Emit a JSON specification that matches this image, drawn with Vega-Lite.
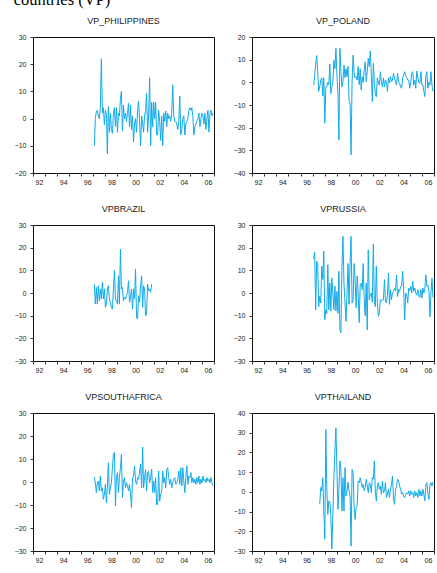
{
"$schema": "https://vega.github.io/schema/vega-lite/v6.json",
"padding": {"left": 13, "top": -9, "right": 2, "bottom": 2},
"title": {"text": "countries (VP)", "font": "Liberation Serif", "fontSize": 16.5, "fontWeight": "normal", "anchor": "start", "color": "#000", "offset": 8.5},
"config": {
 "view": {"stroke": "#111", "strokeWidth": 1},
 "font": "Liberation Sans",
 "title": {"fontSize": 9, "font": "Liberation Sans", "fontWeight": "normal", "color": "#222", "offset": 7},
 "axis": {"grid": false, "domain": false, "tickSize": 3, "tickColor": "#333", "labelColor": "#222", "labelFont": "Liberation Sans", "labelFontSize": 7},
 "axisX": {"labelPadding": 2, "labelOffset": 6, "labelFlush": false, "labelOverlap": false},
 "axisY": {"labelPadding": 4},
 "line": {"color": "#10AAEA", "strokeWidth": 1, "clip": true}
},
"datasets": {
"ph": [{"d":"1997-02","v":-10},{"d":"1997-03","v":0},{"d":"1997-04","v":2.5},{"d":"1997-05","v":3},{"d":"1997-06","v":1},{"d":"1997-07","v":0},{"d":"1997-08","v":4},{"d":"1997-09","v":22},{"d":"1997-10","v":2},{"d":"1997-11","v":4},{"d":"1997-12","v":-2.3},
{"d":"1998-01","v":3},{"d":"1998-02","v":1.5},{"d":"1998-03","v":-13},{"d":"1998-04","v":4.4},{"d":"1998-05","v":-5},{"d":"1998-06","v":2},{"d":"1998-07","v":-4},{"d":"1998-08","v":-5.4},{"d":"1998-09","v":2},{"d":"1998-10","v":4},{"d":"1998-11","v":-3},{"d":"1998-12","v":4},
{"d":"1999-01","v":-5},{"d":"1999-02","v":2},{"d":"1999-03","v":1},{"d":"1999-04","v":7.5},{"d":"1999-05","v":10},{"d":"1999-06","v":-4.6},{"d":"1999-07","v":5},{"d":"1999-08","v":0},{"d":"1999-09","v":2},{"d":"1999-10","v":-1},{"d":"1999-11","v":2},{"d":"1999-12","v":5.6},
{"d":"2000-01","v":-3},{"d":"2000-02","v":5},{"d":"2000-03","v":-4},{"d":"2000-04","v":1},{"d":"2000-05","v":-8.5},{"d":"2000-06","v":-2},{"d":"2000-07","v":0},{"d":"2000-08","v":-5},{"d":"2000-09","v":3},{"d":"2000-10","v":6.4},{"d":"2000-11","v":-1},{"d":"2000-12","v":-10},
{"d":"2001-01","v":1},{"d":"2001-02","v":-2},{"d":"2001-03","v":-5},{"d":"2001-04","v":1},{"d":"2001-05","v":3},{"d":"2001-06","v":9.3},{"d":"2001-07","v":-5},{"d":"2001-08","v":1},{"d":"2001-09","v":15},{"d":"2001-10","v":-10},{"d":"2001-11","v":6},{"d":"2001-12","v":-3},
{"d":"2002-01","v":6},{"d":"2002-02","v":0},{"d":"2002-03","v":6},{"d":"2002-04","v":-6},{"d":"2002-05","v":-6},{"d":"2002-06","v":3},{"d":"2002-07","v":-1},{"d":"2002-08","v":-8},{"d":"2002-09","v":1},{"d":"2002-10","v":-10},{"d":"2002-11","v":2},{"d":"2002-12","v":-1},
{"d":"2003-01","v":2.8},{"d":"2003-02","v":-3},{"d":"2003-03","v":2},{"d":"2003-04","v":0},{"d":"2003-05","v":1},{"d":"2003-06","v":-1},{"d":"2003-07","v":2},{"d":"2003-08","v":12.4},{"d":"2003-09","v":1},{"d":"2003-10","v":-1},{"d":"2003-11","v":-1},{"d":"2003-12","v":-2},
{"d":"2004-01","v":-4},{"d":"2004-02","v":-1},{"d":"2004-03","v":8.3},{"d":"2004-04","v":-6},{"d":"2004-05","v":-4},{"d":"2004-06","v":0},{"d":"2004-07","v":1},{"d":"2004-08","v":-6},{"d":"2004-09","v":-2},{"d":"2004-10","v":-1},{"d":"2004-11","v":0},{"d":"2004-12","v":3},
{"d":"2005-01","v":4},{"d":"2005-02","v":3},{"d":"2005-03","v":4},{"d":"2005-04","v":1},{"d":"2005-05","v":-6},{"d":"2005-06","v":-3},{"d":"2005-07","v":-2},{"d":"2005-08","v":-1},{"d":"2005-09","v":0},{"d":"2005-10","v":2},{"d":"2005-11","v":-3},{"d":"2005-12","v":0},
{"d":"2006-01","v":2},{"d":"2006-02","v":1},{"d":"2006-03","v":-2},{"d":"2006-04","v":2},{"d":"2006-05","v":-4},{"d":"2006-06","v":0},{"d":"2006-07","v":3},{"d":"2006-08","v":-5},{"d":"2006-09","v":2},{"d":"2006-10","v":3},{"d":"2006-11","v":1},{"d":"2006-12","v":2}],
"pl": [{"d":"1997-02","v":-1.2},{"d":"1997-03","v":3},{"d":"1997-04","v":8},{"d":"1997-05","v":11.8},{"d":"1997-06","v":4.7},{"d":"1997-07","v":-4},{"d":"1997-08","v":-2},{"d":"1997-09","v":1},{"d":"1997-10","v":2},{"d":"1997-11","v":-6},{"d":"1997-12","v":2},
{"d":"1998-01","v":-18},{"d":"1998-02","v":-2},{"d":"1998-03","v":-2},{"d":"1998-04","v":0},{"d":"1998-05","v":-1},{"d":"1998-06","v":8},{"d":"1998-07","v":-5},{"d":"1998-08","v":-2},{"d":"1998-09","v":0},{"d":"1998-10","v":9.7},{"d":"1998-11","v":6},{"d":"1998-12","v":15},
{"d":"1999-01","v":3},{"d":"1999-02","v":-5},{"d":"1999-03","v":-25.4},{"d":"1999-04","v":15},{"d":"1999-05","v":5},{"d":"1999-06","v":-2},{"d":"1999-07","v":0.3},{"d":"1999-08","v":7.6},{"d":"1999-09","v":2},{"d":"1999-10","v":6},{"d":"1999-11","v":2.5},{"d":"1999-12","v":7},
{"d":"2000-01","v":-8},{"d":"2000-02","v":-9},{"d":"2000-03","v":-32},{"d":"2000-04","v":0.3},{"d":"2000-05","v":12},{"d":"2000-06","v":4},{"d":"2000-07","v":2},{"d":"2000-08","v":2.5},{"d":"2000-09","v":1},{"d":"2000-10","v":7},{"d":"2000-11","v":-1},{"d":"2000-12","v":6},
{"d":"2001-01","v":-3.4},{"d":"2001-02","v":2.5},{"d":"2001-03","v":0},{"d":"2001-04","v":5.4},{"d":"2001-05","v":9},{"d":"2001-06","v":0.3},{"d":"2001-07","v":4.7},{"d":"2001-08","v":10.6},{"d":"2001-09","v":7},{"d":"2001-10","v":13.8},{"d":"2001-11","v":3.2},{"d":"2001-12","v":-8.5},
{"d":"2002-01","v":8.4},{"d":"2002-02","v":0},{"d":"2002-03","v":-5},{"d":"2002-04","v":-6.3},{"d":"2002-05","v":2},{"d":"2002-06","v":0},{"d":"2002-07","v":-1.2},{"d":"2002-08","v":4.7},{"d":"2002-09","v":0.3},{"d":"2002-10","v":-2},{"d":"2002-11","v":2},{"d":"2002-12","v":-2},
{"d":"2003-01","v":1},{"d":"2003-02","v":0.3},{"d":"2003-03","v":-4},{"d":"2003-04","v":2},{"d":"2003-05","v":-0.2},{"d":"2003-06","v":2.5},{"d":"2003-07","v":0.3},{"d":"2003-08","v":1},{"d":"2003-09","v":4},{"d":"2003-10","v":2},{"d":"2003-11","v":0},{"d":"2003-12","v":-1.2},
{"d":"2004-01","v":4},{"d":"2004-02","v":0.3},{"d":"2004-03","v":-0.5},{"d":"2004-04","v":-2},{"d":"2004-05","v":-2.6},{"d":"2004-06","v":2},{"d":"2004-07","v":3.2},{"d":"2004-08","v":4.7},{"d":"2004-09","v":3},{"d":"2004-10","v":2},{"d":"2004-11","v":1},{"d":"2004-12","v":1},
{"d":"2005-01","v":-2.6},{"d":"2005-02","v":0.3},{"d":"2005-03","v":4},{"d":"2005-04","v":4.7},{"d":"2005-05","v":-1.2},{"d":"2005-06","v":1},{"d":"2005-07","v":-2.6},{"d":"2005-08","v":5},{"d":"2005-09","v":2},{"d":"2005-10","v":0},{"d":"2005-11","v":-0.5},{"d":"2005-12","v":4.7},
{"d":"2006-01","v":-1.2},{"d":"2006-02","v":-1.2},{"d":"2006-03","v":-4},{"d":"2006-04","v":-6.3},{"d":"2006-05","v":3.2},{"d":"2006-06","v":4.7},{"d":"2006-07","v":-2.6},{"d":"2006-08","v":0},{"d":"2006-09","v":-1.2},{"d":"2006-10","v":4.7},{"d":"2006-11","v":-1.2},{"d":"2006-12","v":-4}],
"br": [{"d":"1997-02","v":3.9},{"d":"1997-03","v":-4.9},{"d":"1997-04","v":2.5},{"d":"1997-05","v":-4.9},{"d":"1997-06","v":3.2},{"d":"1997-07","v":-3.4},{"d":"1997-08","v":1.8},{"d":"1997-09","v":-2.6},{"d":"1997-10","v":4.7},{"d":"1997-11","v":-2.6},{"d":"1997-12","v":1.8},
{"d":"1998-01","v":-6.3},{"d":"1998-02","v":-4.9},{"d":"1998-03","v":1.8},{"d":"1998-04","v":3.2},{"d":"1998-05","v":-2.6},{"d":"1998-06","v":-4.1},{"d":"1998-07","v":-6.3},{"d":"1998-08","v":-7.1},{"d":"1998-09","v":1.8},{"d":"1998-10","v":9.9},{"d":"1998-11","v":-2.6},{"d":"1998-12","v":-3.4},
{"d":"1999-01","v":-4.9},{"d":"1999-02","v":7.6},{"d":"1999-03","v":-4.9},{"d":"1999-04","v":19.4},{"d":"1999-05","v":1.8},{"d":"1999-06","v":2.5},{"d":"1999-07","v":-3.4},{"d":"1999-08","v":-1.9},{"d":"1999-09","v":-2.6},{"d":"1999-10","v":-1.2},{"d":"1999-11","v":0.3},{"d":"1999-12","v":5.4},
{"d":"2000-01","v":-4.1},{"d":"2000-02","v":-1.9},{"d":"2000-03","v":1.8},{"d":"2000-04","v":-7.1},{"d":"2000-05","v":1.8},{"d":"2000-06","v":-2.6},{"d":"2000-07","v":10.6},{"d":"2000-08","v":-10.7},{"d":"2000-09","v":-11.5},{"d":"2000-10","v":-1.2},{"d":"2000-11","v":-4.1},{"d":"2000-12","v":3.2},
{"d":"2001-01","v":7.6},{"d":"2001-02","v":-6.3},{"d":"2001-03","v":3.2},{"d":"2001-04","v":1.8},{"d":"2001-05","v":-10},{"d":"2001-06","v":-9.3},{"d":"2001-07","v":3.9},{"d":"2001-08","v":1},{"d":"2001-09","v":1.8},{"d":"2001-10","v":0.3},{"d":"2001-11","v":3.9}],
"ru": [{"d":"1997-02","v":15},{"d":"1997-03","v":18},{"d":"1997-04","v":-7.5},{"d":"1997-05","v":14},{"d":"1997-06","v":13},{"d":"1997-07","v":-6},{"d":"1997-08","v":-1.5},{"d":"1997-09","v":-4.4},{"d":"1997-10","v":11.8},{"d":"1997-11","v":6},{"d":"1997-12","v":18.4},
{"d":"1998-01","v":-11.8},{"d":"1998-02","v":-7.4},{"d":"1998-03","v":-9},{"d":"1998-04","v":12.5},{"d":"1998-05","v":-7.4},{"d":"1998-06","v":4.4},{"d":"1998-07","v":-8},{"d":"1998-08","v":6.6},{"d":"1998-09","v":0},{"d":"1998-10","v":-7.4},{"d":"1998-11","v":3},{"d":"1998-12","v":-8},
{"d":"1999-01","v":0.7},{"d":"1999-02","v":-9},{"d":"1999-03","v":9.6},{"d":"1999-04","v":-16.2},{"d":"1999-05","v":-17.6},{"d":"1999-06","v":11.8},{"d":"1999-07","v":25},{"d":"1999-08","v":4.4},{"d":"1999-09","v":-4.4},{"d":"1999-10","v":-12.5},{"d":"1999-11","v":0},{"d":"1999-12","v":13},
{"d":"2000-01","v":-5},{"d":"2000-02","v":13},{"d":"2000-03","v":25},{"d":"2000-04","v":-4.4},{"d":"2000-05","v":-3},{"d":"2000-06","v":13},{"d":"2000-07","v":6},{"d":"2000-08","v":-6.5},{"d":"2000-09","v":7.4},{"d":"2000-10","v":0},{"d":"2000-11","v":-13},{"d":"2000-12","v":3.7},
{"d":"2001-01","v":4.4},{"d":"2001-02","v":1.5},{"d":"2001-03","v":13},{"d":"2001-04","v":-3},{"d":"2001-05","v":-10},{"d":"2001-06","v":4.4},{"d":"2001-07","v":-16.2},{"d":"2001-08","v":19},{"d":"2001-09","v":-3},{"d":"2001-10","v":-0.7},{"d":"2001-11","v":0},{"d":"2001-12","v":-4},
{"d":"2002-01","v":21.6},{"d":"2002-02","v":-4.4},{"d":"2002-03","v":-6},{"d":"2002-04","v":11.8},{"d":"2002-05","v":-4.4},{"d":"2002-06","v":-10.3},{"d":"2002-07","v":-8.8},{"d":"2002-08","v":-2.9},{"d":"2002-09","v":-3.6},{"d":"2002-10","v":-3},{"d":"2002-11","v":-2.9},{"d":"2002-12","v":5.9},
{"d":"2003-01","v":-3.6},{"d":"2003-02","v":-4.4},{"d":"2003-03","v":-1},{"d":"2003-04","v":8.8},{"d":"2003-05","v":-5},{"d":"2003-06","v":1.5},{"d":"2003-07","v":-2.9},{"d":"2003-08","v":0},{"d":"2003-09","v":0.7},{"d":"2003-10","v":2},{"d":"2003-11","v":1},{"d":"2003-12","v":7.9},
{"d":"2004-01","v":-1.5},{"d":"2004-02","v":1.5},{"d":"2004-03","v":0.7},{"d":"2004-04","v":2.9},{"d":"2004-05","v":3},{"d":"2004-06","v":9.6},{"d":"2004-07","v":2},{"d":"2004-08","v":-11.8},{"d":"2004-09","v":0},{"d":"2004-10","v":-0.7},{"d":"2004-11","v":-4.4},{"d":"2004-12","v":2.2},
{"d":"2005-01","v":1},{"d":"2005-02","v":2.9},{"d":"2005-03","v":0},{"d":"2005-04","v":5.2},{"d":"2005-05","v":0.7},{"d":"2005-06","v":2.2},{"d":"2005-07","v":0},{"d":"2005-08","v":-1},{"d":"2005-09","v":1.5},{"d":"2005-10","v":-1.5},{"d":"2005-11","v":-2},{"d":"2005-12","v":1.5},
{"d":"2006-01","v":-2.2},{"d":"2006-02","v":2.2},{"d":"2006-03","v":0},{"d":"2006-04","v":2},{"d":"2006-05","v":8},{"d":"2006-06","v":3},{"d":"2006-07","v":3.5},{"d":"2006-08","v":1},{"d":"2006-09","v":-10.5},{"d":"2006-10","v":0},{"d":"2006-11","v":6.5},{"d":"2006-12","v":-2}],
"za": [{"d":"1997-02","v":2.2},{"d":"1997-03","v":-0.3},{"d":"1997-04","v":-4.6},{"d":"1997-05","v":-0.3},{"d":"1997-06","v":0.4},{"d":"1997-07","v":-3.9},{"d":"1997-08","v":2.6},{"d":"1997-09","v":-3.9},{"d":"1997-10","v":-2.5},{"d":"1997-11","v":-7.5},{"d":"1997-12","v":-5.4},
{"d":"1998-01","v":-1},{"d":"1998-02","v":-9},{"d":"1998-03","v":-1.7},{"d":"1998-04","v":8.4},{"d":"1998-05","v":-5.4},{"d":"1998-06","v":-2.5},{"d":"1998-07","v":-0.3},{"d":"1998-08","v":6.2},{"d":"1998-09","v":12},{"d":"1998-10","v":12.8},{"d":"1998-11","v":-10.4},{"d":"1998-12","v":1.9},
{"d":"1999-01","v":4.1},{"d":"1999-02","v":-4.6},{"d":"1999-03","v":1.9},{"d":"1999-04","v":6.2},{"d":"1999-05","v":12},{"d":"1999-06","v":-6.8},{"d":"1999-07","v":0.4},{"d":"1999-08","v":1.9},{"d":"1999-09","v":-2.5},{"d":"1999-10","v":-0.3},{"d":"1999-11","v":-1.7},{"d":"1999-12","v":-3.9},
{"d":"2000-01","v":-1},{"d":"2000-02","v":-5.4},{"d":"2000-03","v":-11.2},{"d":"2000-04","v":1.9},{"d":"2000-05","v":2.6},{"d":"2000-06","v":7},{"d":"2000-07","v":0.4},{"d":"2000-08","v":-1},{"d":"2000-09","v":1.9},{"d":"2000-10","v":1.2},{"d":"2000-11","v":4.8},{"d":"2000-12","v":7.7},
{"d":"2001-01","v":-2.5},{"d":"2001-02","v":15.2},{"d":"2001-03","v":-2.5},{"d":"2001-04","v":1.9},{"d":"2001-05","v":5.5},{"d":"2001-06","v":-3.9},{"d":"2001-07","v":4.1},{"d":"2001-08","v":4.8},{"d":"2001-09","v":-0.3},{"d":"2001-10","v":1.9},{"d":"2001-11","v":5.5},{"d":"2001-12","v":-4.6},
{"d":"2002-01","v":0.4},{"d":"2002-02","v":-4.6},{"d":"2002-03","v":1.9},{"d":"2002-04","v":-10},{"d":"2002-05","v":-9.5},{"d":"2002-06","v":4.8},{"d":"2002-07","v":-8.3},{"d":"2002-08","v":-5.4},{"d":"2002-09","v":-3.9},{"d":"2002-10","v":4.8},{"d":"2002-11","v":-0.3},{"d":"2002-12","v":1.9},
{"d":"2003-01","v":-2.5},{"d":"2003-02","v":5.5},{"d":"2003-03","v":6.2},{"d":"2003-04","v":1.9},{"d":"2003-05","v":-1},{"d":"2003-06","v":1.2},{"d":"2003-07","v":-2.5},{"d":"2003-08","v":-0.3},{"d":"2003-09","v":1.2},{"d":"2003-10","v":1.9},{"d":"2003-11","v":-1},{"d":"2003-12","v":-0.3},
{"d":"2004-01","v":1.2},{"d":"2004-02","v":4.8},{"d":"2004-03","v":-1},{"d":"2004-04","v":6.2},{"d":"2004-05","v":-1.7},{"d":"2004-06","v":6.2},{"d":"2004-07","v":0.4},{"d":"2004-08","v":-4.6},{"d":"2004-09","v":1.9},{"d":"2004-10","v":7},{"d":"2004-11","v":-1},{"d":"2004-12","v":2.6},
{"d":"2005-01","v":1.9},{"d":"2005-02","v":4.1},{"d":"2005-03","v":-0.3},{"d":"2005-04","v":1.9},{"d":"2005-05","v":-0.3},{"d":"2005-06","v":1.2},{"d":"2005-07","v":-1},{"d":"2005-08","v":1.9},{"d":"2005-09","v":-0.3},{"d":"2005-10","v":2.6},{"d":"2005-11","v":-1},{"d":"2005-12","v":1.2},
{"d":"2006-01","v":-0.3},{"d":"2006-02","v":2.6},{"d":"2006-03","v":0.4},{"d":"2006-04","v":1.2},{"d":"2006-05","v":-0.3},{"d":"2006-06","v":1.9},{"d":"2006-07","v":0.4},{"d":"2006-08","v":1.2},{"d":"2006-09","v":-0.3},{"d":"2006-10","v":1.9},{"d":"2006-11","v":-0.3},{"d":"2006-12","v":-1.7}],
"th": [{"d":"1997-08","v":-6.3},{"d":"1997-09","v":2.2},{"d":"1997-10","v":0.5},{"d":"1997-11","v":7.2},{"d":"1997-12","v":-9.7},
{"d":"1998-01","v":-24},{"d":"1998-02","v":31.7},{"d":"1998-03","v":2.2},{"d":"1998-04","v":-11.4},{"d":"1998-05","v":-4.7},{"d":"1998-06","v":-5},{"d":"1998-07","v":-12},{"d":"1998-08","v":-29},{"d":"1998-09","v":-11.4},{"d":"1998-10","v":7.2},{"d":"1998-11","v":20.7},{"d":"1998-12","v":32.5},
{"d":"1999-01","v":10.6},{"d":"1999-02","v":-8.9},{"d":"1999-03","v":0.5},{"d":"1999-04","v":15.7},{"d":"1999-05","v":11.4},{"d":"1999-06","v":-9.7},{"d":"1999-07","v":7.2},{"d":"1999-08","v":-9.7},{"d":"1999-09","v":12.3},{"d":"1999-10","v":-2.1},{"d":"1999-11","v":0.5},{"d":"1999-12","v":5},
{"d":"2000-01","v":0.5},{"d":"2000-02","v":-2.1},{"d":"2000-03","v":-27.5},{"d":"2000-04","v":11.4},{"d":"2000-05","v":9.7},{"d":"2000-06","v":-7.2},{"d":"2000-07","v":-14},{"d":"2000-08","v":-8},{"d":"2000-09","v":-7.2},{"d":"2000-10","v":5.5},{"d":"2000-11","v":4.7},{"d":"2000-12","v":7.2},
{"d":"2001-01","v":4.7},{"d":"2001-02","v":2.2},{"d":"2001-03","v":3.8},{"d":"2001-04","v":0.5},{"d":"2001-05","v":2.2},{"d":"2001-06","v":6.4},{"d":"2001-07","v":3},{"d":"2001-08","v":-0.4},{"d":"2001-09","v":4.7},{"d":"2001-10","v":3.8},{"d":"2001-11","v":-0.4},{"d":"2001-12","v":7.2},
{"d":"2002-01","v":6.4},{"d":"2002-02","v":15.7},{"d":"2002-03","v":0.5},{"d":"2002-04","v":-4.7},{"d":"2002-05","v":3},{"d":"2002-06","v":4.7},{"d":"2002-07","v":1.3},{"d":"2002-08","v":3},{"d":"2002-09","v":-1.2},{"d":"2002-10","v":5.5},{"d":"2002-11","v":-0.4},{"d":"2002-12","v":0.5},
{"d":"2003-01","v":4.7},{"d":"2003-02","v":-2.9},{"d":"2003-03","v":-1.2},{"d":"2003-04","v":1.3},{"d":"2003-05","v":-2.9},{"d":"2003-06","v":1.3},{"d":"2003-07","v":3.8},{"d":"2003-08","v":8},{"d":"2003-09","v":-3.8},{"d":"2003-10","v":-6.3},{"d":"2003-11","v":1.3},{"d":"2003-12","v":3},
{"d":"2004-01","v":6.4},{"d":"2004-02","v":5.5},{"d":"2004-03","v":3},{"d":"2004-04","v":1.3},{"d":"2004-05","v":-1.2},{"d":"2004-06","v":-0.4},{"d":"2004-07","v":-2.1},{"d":"2004-08","v":-2.9},{"d":"2004-09","v":-1.2},{"d":"2004-10","v":-0.4},{"d":"2004-11","v":-1.2},{"d":"2004-12","v":0.5},
{"d":"2005-01","v":-2.1},{"d":"2005-02","v":0.5},{"d":"2005-03","v":-1.2},{"d":"2005-04","v":-0.4},{"d":"2005-05","v":-2.9},{"d":"2005-06","v":0.5},{"d":"2005-07","v":-2.1},{"d":"2005-08","v":-0.4},{"d":"2005-09","v":-2.9},{"d":"2005-10","v":1.3},{"d":"2005-11","v":-2.1},{"d":"2005-12","v":0.5},
{"d":"2006-01","v":-2.1},{"d":"2006-02","v":1.3},{"d":"2006-03","v":-1.2},{"d":"2006-04","v":-4.5},{"d":"2006-05","v":3.8},{"d":"2006-06","v":4.7},{"d":"2006-07","v":-1.2},{"d":"2006-08","v":-3.8},{"d":"2006-09","v":3.8},{"d":"2006-10","v":4.7},{"d":"2006-11","v":3},{"d":"2006-12","v":5}]
},
"spacing": 18,
"vconcat": [
{"hconcat": [
 {"title": "VP_PHILIPPINES", "width": 181, "height": 136, "data": {"name": "ph"}, "mark": "line",
  "encoding": {
   "x": {"field": "d", "type": "temporal", "title": null, "scale": {"type": "utc", "domain": [{"year": 1992, "utc": true}, {"year": 2007, "utc": true}]}, "axis": {"values": [{"year":1992,"utc":true},{"year":1993,"utc":true},{"year":1994,"utc":true},{"year":1995,"utc":true},{"year":1996,"utc":true},{"year":1997,"utc":true},{"year":1998,"utc":true},{"year":1999,"utc":true},{"year":2000,"utc":true},{"year":2001,"utc":true},{"year":2002,"utc":true},{"year":2003,"utc":true},{"year":2004,"utc":true},{"year":2005,"utc":true},{"year":2006,"utc":true},{"year":2007,"utc":true}], "labelExpr": "utcyear(datum.value) % 2 == 0 && utcyear(datum.value) < 2007 ? utcFormat(datum.value, '%y') : ''"}},
   "y": {"field": "v", "type": "quantitative", "title": null, "scale": {"domain": [-20, 30], "nice": false, "zero": false}, "axis": {"values": [-20, -10, 0, 10, 20, 30]}}
  }},
 {"title": "VP_POLAND", "width": 182, "height": 136, "data": {"name": "pl"}, "mark": "line",
  "encoding": {
   "x": {"field": "d", "type": "temporal", "title": null, "scale": {"type": "utc", "domain": [{"year": 1992, "utc": true}, {"year": 2007, "utc": true}]}, "axis": {"values": [{"year":1992,"utc":true},{"year":1993,"utc":true},{"year":1994,"utc":true},{"year":1995,"utc":true},{"year":1996,"utc":true},{"year":1997,"utc":true},{"year":1998,"utc":true},{"year":1999,"utc":true},{"year":2000,"utc":true},{"year":2001,"utc":true},{"year":2002,"utc":true},{"year":2003,"utc":true},{"year":2004,"utc":true},{"year":2005,"utc":true},{"year":2006,"utc":true},{"year":2007,"utc":true}], "labelExpr": "utcyear(datum.value) % 2 == 0 && utcyear(datum.value) < 2007 ? utcFormat(datum.value, '%y') : ''"}},
   "y": {"field": "v", "type": "quantitative", "title": null, "scale": {"domain": [-40, 20], "nice": false, "zero": false}, "axis": {"values": [-40, -30, -20, -10, 0, 10, 20]}}
  }}
], "spacing": 11},
{"hconcat": [
 {"title": "VPBRAZIL", "width": 181, "height": 136, "data": {"name": "br"}, "mark": "line",
  "encoding": {
   "x": {"field": "d", "type": "temporal", "title": null, "scale": {"type": "utc", "domain": [{"year": 1992, "utc": true}, {"year": 2007, "utc": true}]}, "axis": {"values": [{"year":1992,"utc":true},{"year":1993,"utc":true},{"year":1994,"utc":true},{"year":1995,"utc":true},{"year":1996,"utc":true},{"year":1997,"utc":true},{"year":1998,"utc":true},{"year":1999,"utc":true},{"year":2000,"utc":true},{"year":2001,"utc":true},{"year":2002,"utc":true},{"year":2003,"utc":true},{"year":2004,"utc":true},{"year":2005,"utc":true},{"year":2006,"utc":true},{"year":2007,"utc":true}], "labelExpr": "utcyear(datum.value) % 2 == 0 && utcyear(datum.value) < 2007 ? utcFormat(datum.value, '%y') : ''"}},
   "y": {"field": "v", "type": "quantitative", "title": null, "scale": {"domain": [-30, 30], "nice": false, "zero": false}, "axis": {"values": [-30, -20, -10, 0, 10, 20, 30]}}
  }},
 {"title": "VPRUSSIA", "width": 182, "height": 136, "data": {"name": "ru"}, "mark": "line",
  "encoding": {
   "x": {"field": "d", "type": "temporal", "title": null, "scale": {"type": "utc", "domain": [{"year": 1992, "utc": true}, {"year": 2007, "utc": true}]}, "axis": {"values": [{"year":1992,"utc":true},{"year":1993,"utc":true},{"year":1994,"utc":true},{"year":1995,"utc":true},{"year":1996,"utc":true},{"year":1997,"utc":true},{"year":1998,"utc":true},{"year":1999,"utc":true},{"year":2000,"utc":true},{"year":2001,"utc":true},{"year":2002,"utc":true},{"year":2003,"utc":true},{"year":2004,"utc":true},{"year":2005,"utc":true},{"year":2006,"utc":true},{"year":2007,"utc":true}], "labelExpr": "utcyear(datum.value) % 2 == 0 && utcyear(datum.value) < 2007 ? utcFormat(datum.value, '%y') : ''"}},
   "y": {"field": "v", "type": "quantitative", "title": null, "scale": {"domain": [-30, 30], "nice": false, "zero": false}, "axis": {"values": [-30, -20, -10, 0, 10, 20, 30]}}
  }}
], "spacing": 11},
{"hconcat": [
 {"title": "VPSOUTHAFRICA", "width": 181, "height": 138, "data": {"name": "za"}, "mark": "line",
  "encoding": {
   "x": {"field": "d", "type": "temporal", "title": null, "scale": {"type": "utc", "domain": [{"year": 1992, "utc": true}, {"year": 2007, "utc": true}]}, "axis": {"values": [{"year":1992,"utc":true},{"year":1993,"utc":true},{"year":1994,"utc":true},{"year":1995,"utc":true},{"year":1996,"utc":true},{"year":1997,"utc":true},{"year":1998,"utc":true},{"year":1999,"utc":true},{"year":2000,"utc":true},{"year":2001,"utc":true},{"year":2002,"utc":true},{"year":2003,"utc":true},{"year":2004,"utc":true},{"year":2005,"utc":true},{"year":2006,"utc":true},{"year":2007,"utc":true}], "labelExpr": "utcyear(datum.value) % 2 == 0 && utcyear(datum.value) < 2007 ? utcFormat(datum.value, '%y') : ''"}},
   "y": {"field": "v", "type": "quantitative", "title": null, "scale": {"domain": [-30, 30], "nice": false, "zero": false}, "axis": {"values": [-30, -20, -10, 0, 10, 20, 30]}}
  }},
 {"title": "VPTHAILAND", "width": 182, "height": 138, "data": {"name": "th"}, "mark": "line",
  "encoding": {
   "x": {"field": "d", "type": "temporal", "title": null, "scale": {"type": "utc", "domain": [{"year": 1992, "utc": true}, {"year": 2007, "utc": true}]}, "axis": {"values": [{"year":1992,"utc":true},{"year":1993,"utc":true},{"year":1994,"utc":true},{"year":1995,"utc":true},{"year":1996,"utc":true},{"year":1997,"utc":true},{"year":1998,"utc":true},{"year":1999,"utc":true},{"year":2000,"utc":true},{"year":2001,"utc":true},{"year":2002,"utc":true},{"year":2003,"utc":true},{"year":2004,"utc":true},{"year":2005,"utc":true},{"year":2006,"utc":true},{"year":2007,"utc":true}], "labelExpr": "utcyear(datum.value) % 2 == 0 && utcyear(datum.value) < 2007 ? utcFormat(datum.value, '%y') : ''"}},
   "y": {"field": "v", "type": "quantitative", "title": null, "scale": {"domain": [-30, 40], "nice": false, "zero": false}, "axis": {"values": [-30, -20, -10, 0, 10, 20, 30, 40]}}
  }}
], "spacing": 11}
]
}
